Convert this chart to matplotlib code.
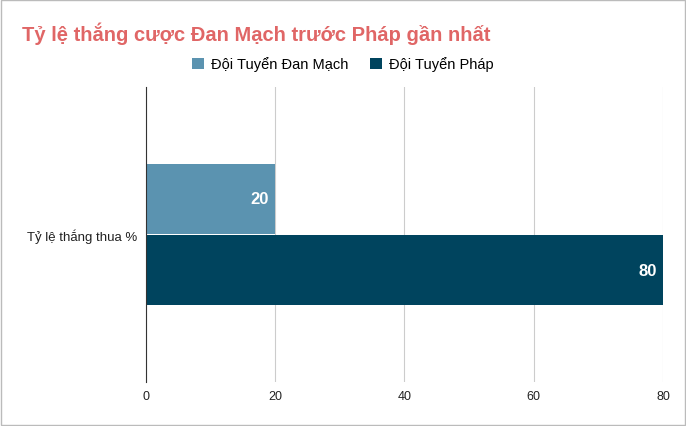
import matplotlib.pyplot as plt
from matplotlib.patches import Rectangle

plt.rcParams['font.family'] = ['Liberation Sans', 'DejaVu Sans']

category = "Tỷ lệ thắng thua %"
series = ["Đội Tuyển Đan Mạch", "Đội Tuyển Pháp"]
values = [20, 80]
colors = ["#5b93b0", "#00445e"]
xticks = [0, 20, 40, 60, 80]

fig = plt.figure(figsize=[6.86, 4.27], dpi=100)
ax = fig.add_axes([0.2128, 0.103, 0.7537, 0.691])

offsets = [0.121, -0.121]
for name, v, c, off in zip(series, values, colors, offsets):
    ax.barh(off, v, height=0.237, color=c, label=name)
    ax.text(v - 1, off, str(v), color="white", fontsize=12, fontweight="bold",
            ha="right", va="center")

ax.set_ylim(-0.5, 0.5)
ax.set_xlim(0, 80)
ax.set_yticks([0])
ax.set_yticklabels([category], fontsize=9.5, color="#222222")
ax.set_xticks(xticks)
ax.set_xticklabels([str(t) for t in xticks], fontsize=9, color="#222222")
ax.tick_params(length=0, pad=6)
ax.grid(axis="x", color="#cccccc", linewidth=0.8)
ax.set_axisbelow(True)
for s in ["top", "right", "bottom"]:
    ax.spines[s].set_visible(False)
ax.spines["left"].set_color("#333333")

fig.text(0.032, 0.922, "Tỷ lệ thắng cược Đan Mạch trước Pháp gần nhất",
         fontsize=14.5, fontweight="bold", color="#e06666", va="center")
fig.legend(loc="center", bbox_to_anchor=(0.5, 0.848), ncol=2, frameon=False,
           fontsize=10.5, handlelength=0.8, handleheight=0.8, columnspacing=1.5,
           handletextpad=0.5)

fig.patches.append(Rectangle((0.001, 0.002), 0.997, 0.995, transform=fig.transFigure,
                             fill=False, edgecolor="#bbbbbb", linewidth=1))
fig.savefig("out.png", dpi=100)
